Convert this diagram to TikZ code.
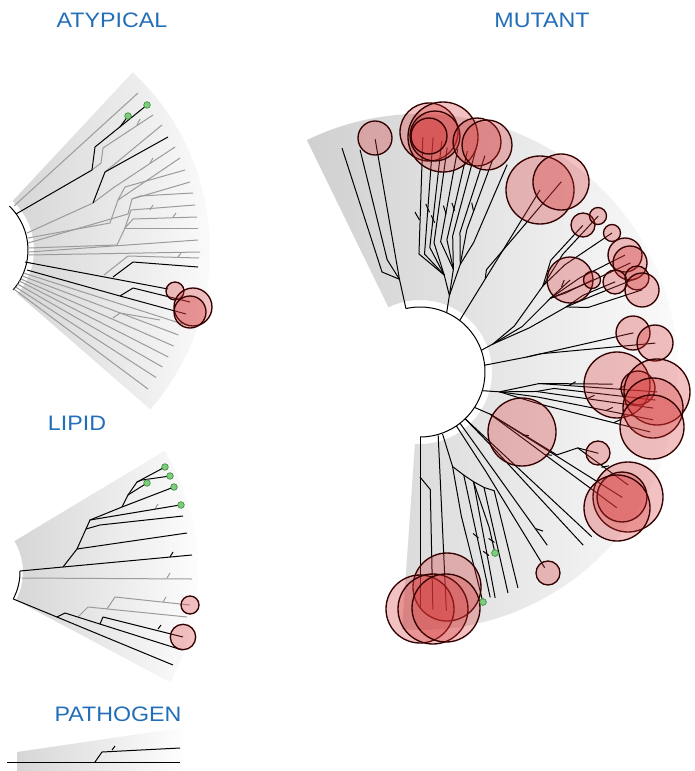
\documentclass[tikz,border=0pt]{standalone}
\usepackage{fontspec}
\newfontfamily\lblfont{Liberation Sans}[FakeStretch=1.11]
\definecolor{lbl}{RGB}{35,110,185}
\definecolor{crcred}{RGB}{215,50,50}
\definecolor{grl}{RGB}{155,155,155}
\definecolor{fanM}{RGB}{208,208,208}
\definecolor{fanA}{RGB}{214,214,214}
\definecolor{gfill}{RGB}{125,205,125}
\definecolor{gdraw}{RGB}{60,140,60}
\tikzset{
  bl/.style={draw=black, line width=0.75pt, line join=round},
  gl/.style={draw=grl, line width=0.75pt, line join=round},
  crc/.style={draw=black!80!red, line width=1pt, fill=crcred, fill opacity=0.3, draw opacity=1},
  gdot/.style={draw=gdraw, fill=gfill, line width=0.5pt},
  title/.style={text=lbl, font=\lblfont\fontsize{15.7}{18}\selectfont, inner sep=0pt}
}
\begin{document}
\begin{tikzpicture}[x=0.75pt,y=-0.75pt]
\useasboundingbox (0,0) rectangle (694,771);
\fill[white] (0,0) rectangle (694,771);

% ===================== MUTANT =====================
\begin{scope}[shift={(420,372)},yscale=-1]
\shade[left color=fanM,right color=white] (-94:72) arc[start angle=-94,end angle=116,radius=72] -- (116:258) arc[start angle=116,end angle=-94,radius=258] -- cycle;
\draw[bl] (102.5:65) arc[start angle=102.5,end angle=-90,radius=65];
% clade A
\draw[bl] (102.5:65)--(102.5:95)--(100.9:237);
\draw[bl] (102.5:95)--(110.8:107)--(109.2:237);
\draw[bl] (102.5:95)--(106.3:117)--(105.1:230);
% clade B
\draw[bl] (65.8:65)--(69:82)--(76:100)--(90.5:118)--(89.3:235);
\draw[bl] (76:100)--(87.8:118)--(86.8:235);
\draw[bl] (76:100)--(85.5:125)--(84.6:232);
\draw[bl] (76:100)--(83.8:130)--(83.1:226);
\draw[bl] (69:82)--(72:108)--(81:132)--(80.4:226);
\draw[bl] (72:108)--(78.5:135)--(77.9:226);
\draw[bl] (72:108)--(76.5:140)--(75.9:234);
\draw[bl] (69:82)--(69.5:115)--(74:145)--(73.3:226);
\draw[bl] (69.5:115)--(71.8:150)--(71.1:224);
\draw[bl] (69.5:115)--(67.5:140)--(67.2:225);
\draw[bl] (90.2:152)--(91.8:160);
\draw[bl] (86.6:160)--(88.0:168);
\draw[bl] (84.4:150)--(85.9:157);
\draw[bl] (80.6:160)--(82.0:168);
\draw[bl] (77.9:165)--(79.3:172);
\draw[bl] (71.7:170)--(73.0:177);
% clade C
\draw[bl] (52.4:65)--(56.6:218);
\draw[bl] (55.1:114)--(57:122)--(53.4:237);
% clade D
\draw[bl] (19.5:65)--(21:78)--(26:105)--(35:150)--(40.5:172)--(42:219);
\draw[bl] (35:150)--(39.5:185)--(41.2:237);
\draw[bl] (35:150)--(36.5:180)--(35.9:237);
\draw[bl] (21:78)--(24:112)--(29.5:150)--(31.5:176);
\draw[bl] (29.5:150)--(28.5:165)--(28.1:195);
\draw[bl] (29.5:150)--(30.5:185)--(29.7:236);
\draw[bl] (29.5:150)--(28:190)--(27.4:237);
\draw[bl] (21:78)--(22:118)--(24:160)--(25.2:180)--(24.8:215);
\draw[bl] (24:160)--(23.8:190)--(23.4:236);
\draw[bl] (24:160)--(21:180)--(20.3:237);
\draw[bl] (31:165)--(32.5:171);
% clade E
\draw[bl] (6:65)--(8:108)--(10.4:217);
\draw[bl] (8:108)--(8.6:122)--(7:237);
% clade F
\draw[bl] (-16.7:65)--(-14:82)--(-5.5:120)--(-3.6:193);
\draw[bl] (-5.5:120)--(-4.8:238);
\draw[bl] (-14:82)--(-9.5:118)--(-8.8:236);
\draw[bl] (-9.5:118)--(-7:135)--(-6.8:237);
\draw[bl] (-14:82)--(-12:120)--(-11.6:238);
\draw[bl] (-14:82)--(-15:125)--(-14.6:238);
\draw[bl] (-5:150)--(-3.6:156);
\draw[bl] (-4.9:200)--(-3.6:206);
\draw[bl] (-8.9:170)--(-7.6:176);
\draw[bl] (-11.7:190)--(-10.4:196);
\draw[bl] (-14.7:200)--(-13.4:206);
% clade G
\draw[bl] (-33:65)--(-31:82)--(-34.6:239);
\draw[bl] (-31:82)--(-31.8:238);
\draw[bl] (-31:82)--(-31.2:160)--(-25.7:175)--(-28.5:237);
\draw[bl] (-25.7:175)--(-24.5:196);
\draw[bl] (-33.5:150)--(-32.2:156);
\draw[bl] (-31.6:120)--(-30.3:126);
\draw[bl] (-27.7:205)--(-26.4:211);
% clade H
\draw[bl] (-46:65)--(-43.8:238);
\draw[bl] (-46:65)--(-46:105)--(-46.7:238);
\draw[bl] (-52:65)--(-53:110)--(-53.7:215);
\draw[bl] (-56:65)--(-56.5:120)--(-57.5:232);
\draw[bl] (-53.5:195)--(-52.3:201);
% clade I
\draw[bl] (-90:65)--(-90:235);
\draw[bl] (-90:105)--(-85:118)--(-86.9:238);
\draw[bl] (-74:66)--(-83.7:240);
\draw[bl] (-70:66)--(-71:100)--(-67:112)--(-72.7:236);
\draw[bl] (-71:100)--(-74:150)--(-74.7:238);
\draw[bl] (-67:112)--(-64:122)--(-71.6:238);
\draw[bl] (-64:122)--(-61:132)--(-68.3:238);
\draw[bl] (-61:132)--(-58:140)--(-65.6:237);
\draw[bl] (-64:122)--(-66:170)--(-67.5:196);
\draw[bl] (-71.8:170)--(-70.6:176);
\draw[bl] (-70.6:190)--(-69.4:196);
\draw[bl] (-67.6:180)--(-66.4:186);
\end{scope}

% mutant circles
\foreach \cx/\cy/\r in {375/138/17, 429/132/29, 443/137/35, 435/136/25, 429/136/18, 477/142/24, 487/145/25,
  540/190/34, 561/182/28, 583/225/12, 598/216/8.5, 612/233/8.5, 570/280/23, 592/280/8.5,
  625/255/17, 630/263/17, 615/282/12, 637/278/12, 642/290/17, 633/333/17, 655/343/18,
  617/385/33, 638/388/17, 657/392/33, 653/408/30, 652/427/32, 522/432/34, 598/453/12,
  628/497/35, 622/497/25, 617/508/33, 548/573/12,
  447/587/34, 420/609/34, 433/609/35, 446/608/34}
  \draw[crc] (\cx,\cy) circle[radius=\r];
\draw[gdot] (495,553) circle[radius=3.4];
\draw[gdot] (483,602) circle[radius=3.4];

% ===================== ATYPICAL =====================
\begin{scope}[shift={(-33,250)},yscale=-1]
\shade[left color=fanA,right color=white] (-41:67) arc[start angle=-41,end angle=47,radius=67] -- (47:243) arc[start angle=47,end angle=-41,radius=243] -- cycle;
\draw[bl] (46:61) arc[start angle=46,end angle=-41,radius=61];
\end{scope}
\draw[gl] (14,206)--(138,93);
\draw[gl] (92,170)--(101,163)--(103,148)--(153,115);
\draw[gl] (137,125)--(140,119);
\draw[gl] (27,233)--(93,203);
\draw[gl] (105,172)--(162,125);
\draw[gl] (93,203)--(113,188)--(175,147);
\draw[gl] (150,163)--(153,158);
\draw[gl] (28,238)--(110,223)--(118,200)--(180,158);
\draw[gl] (118,200)--(125,187)--(185,170);
\draw[gl] (28,243)--(128,214)--(132,199)--(190,182);
\draw[gl] (132,199)--(140,196)--(193,193);
\draw[gl] (29,248)--(117,245)--(125,228)--(131,210)--(195,205);
\draw[gl] (125,228)--(133,219)--(197,217);
\draw[gl] (125,228)--(198,228);
\draw[gl] (150,210)--(153,205);
\draw[gl] (173,217)--(176,213);
\draw[gl] (29,252)--(198,240);
\draw[gl] (29,255)--(200,252);
\draw[gl] (104,275)--(128,256)--(199,258);
\draw[gl] (178,257)--(181,253);
\draw[gl] (23.6,273)--(182.6,324);
\draw[gl] (22.3,276)--(178.4,335);
\draw[gl] (20.9,279)--(173.6,346);
\draw[gl] (113,318)--(120,313)--(160,320);
\draw[gl] (19.3,281)--(168.3,357);
\draw[gl] (17.6,284)--(162.4,367);
\draw[gl] (15.7,287)--(156,377.5);
\draw[gl] (13.7,289)--(148,389);
\draw[bl] (16,214)--(92,170)--(95,147)--(147,105);
\draw[bl] (120,127)--(128,116);
\draw[bl] (93,203)--(105,172)--(168,137);
\draw[bl] (25,262)--(168,289);
\draw[bl] (113,277)--(133,262)--(198,267);
\draw[bl] (27,270)--(120,296)--(133,288)--(190,302);
\draw[bl] (120,296)--(186,314);
\draw[crc] (175,291) circle[radius=9];
\draw[crc] (193,307) circle[radius=19];
\draw[crc] (190,312) circle[radius=16];
\draw[gdot] (128,116) circle[radius=3.3];
\draw[gdot] (147,105) circle[radius=3.3];

% ===================== LIPID =====================
\begin{scope}[shift={(-37,572)},yscale=-1]
\shade[left color=fanA,right color=white] (-28:60) arc[start angle=-28,end angle=31,radius=60] -- (31:235) arc[start angle=31,end angle=-28,radius=235] -- cycle;
\draw[bl] (1:57) arc[start angle=1,end angle=-28,radius=57];
\end{scope}
\draw[gl] (22,578)--(192,579);
\draw[gl] (167,578)--(170,573);
\draw[gl] (155,509)--(158,504);
\draw[gl] (78,617)--(88,607)--(187,617);
\draw[gl] (107,609)--(115,597)--(190,605);
\draw[gl] (163,602)--(166,597);
\draw[bl] (20,571)--(63,567)--(192,555);
\draw[bl] (170,557)--(173,552);
\draw[bl] (63,567)--(77,549)--(187,533);
\draw[bl] (77,549)--(90,520)--(180,505);
\draw[bl] (86,529)--(100,525)--(183,516);
\draw[bl] (90,520)--(122,507)--(174,487);
\draw[bl] (122,507)--(128,495)--(147,483);
\draw[bl] (128,495)--(137,482)--(165,467);
\draw[bl] (137,482)--(142,480)--(170,476);
\draw[bl] (13.3,599)--(173,665);
\draw[bl] (57,617)--(65,613)--(182,650);
\draw[bl] (100,624)--(103,617)--(183,637);
\draw[bl] (158,629)--(161,625);
\draw[crc] (190,605) circle[radius=9];
\draw[crc] (183,637) circle[radius=12.7];
\foreach \gx/\gy in {165/467, 170/476, 147/483, 174/487, 181/505}
  \draw[gdot] (\gx,\gy) circle[radius=3.3];

% ===================== PATHOGEN =====================
\shade[left color=fanA,right color=white] (17,752)--(187,727)--(187,771)--(17,771)--cycle;
\draw[bl] (7,762)--(180,762);
\draw[bl] (95,762)--(102,752)--(180,748);
\draw[bl] (112,750)--(115,746);

% ===================== LABELS =====================
\node[title] (tAty) at (112,20) {ATYPICAL};
\node[title] (tMut) at (542,20) {MUTANT};
\node[title] (tLip) at (77,423) {LIPID};
\node[title] (tPat) at (118,714) {PATHOGEN};
\end{tikzpicture}
\end{document}
